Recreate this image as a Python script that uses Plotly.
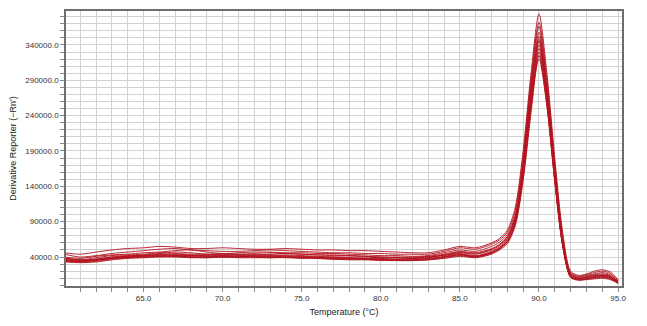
import plotly.graph_objects as go

# Temperature points (°C)
temps = [60, 61, 62, 63, 64, 65, 66, 67, 68, 69, 70, 71, 72, 73, 74, 75, 76, 77, 78, 79,
         80, 81, 82, 83, 84, 85, 86, 87, 87.5, 88, 88.5, 89, 89.5, 90, 90.5, 91, 91.5,
         92, 92.5, 93, 93.5, 94, 94.5, 95]

# Derivative reporter values, in thousands, one list per well
well_01 = [46, 44, 47, 50, 52, 53, 55, 54, 52, 52, 53, 52, 51, 51, 52, 51, 50, 50, 49, 49,
           48, 47, 46, 46, 50, 55, 53, 60, 66, 78, 110, 190, 300, 384, 300, 180, 75,
           20, 14, 16, 20, 22, 19, 8]
well_02 = [44, 40, 42, 45, 47, 49, 51, 52, 50, 49, 48, 48, 49, 50, 49, 48, 47, 46, 46, 45,
           45, 44, 44, 44, 48, 53, 51, 58, 64, 75, 105, 182, 292, 372, 292, 172, 70,
           18, 13, 15, 18, 20, 17, 7]
well_03 = [40, 38, 41, 43, 44, 46, 47, 49, 50, 47, 45, 46, 47, 47, 46, 46, 45, 45, 44, 43,
           42, 42, 41, 42, 46, 50, 48, 55, 61, 72, 100, 176, 286, 366, 285, 168, 66,
           17, 12, 14, 16, 18, 15, 6]
well_04 = [38, 36, 39, 42, 43, 44, 46, 45, 44, 44, 45, 44, 43, 44, 45, 44, 43, 43, 42, 41,
           40, 40, 40, 41, 44, 48, 46, 52, 58, 69, 97, 170, 280, 358, 280, 163, 63,
           16, 11, 13, 15, 16, 14, 5]
well_05 = [36, 34, 37, 40, 42, 42, 43, 43, 42, 43, 44, 43, 42, 42, 43, 42, 41, 40, 40, 40,
           39, 39, 38, 39, 43, 46, 44, 50, 56, 67, 95, 168, 275, 352, 275, 160, 61,
           15, 10, 12, 14, 15, 13, 5]
well_06 = [37, 35, 36, 39, 41, 42, 44, 44, 43, 42, 42, 42, 43, 43, 42, 41, 40, 40, 39, 38,
           38, 37, 38, 40, 42, 45, 42, 48, 54, 65, 92, 163, 268, 345, 270, 156, 59,
           14, 9, 11, 13, 14, 12, 4]
well_07 = [35, 33, 35, 38, 40, 41, 42, 41, 41, 41, 42, 41, 41, 41, 41, 40, 40, 39, 38, 38,
           37, 37, 37, 38, 41, 44, 41, 47, 53, 63, 90, 160, 262, 340, 266, 153, 58,
           13, 9, 10, 12, 13, 11, 4]
well_08 = [34, 33, 34, 37, 39, 40, 41, 41, 40, 40, 41, 40, 40, 40, 40, 39, 39, 38, 37, 37,
           36, 36, 36, 37, 40, 43, 40, 46, 52, 62, 88, 156, 256, 335, 262, 150, 57,
           12, 8, 9, 11, 12, 10, 3]
well_09 = [38, 35, 36, 38, 39, 41, 43, 42, 40, 39, 40, 41, 40, 39, 40, 40, 38, 37, 37, 37,
           36, 35, 35, 36, 39, 42, 40, 45, 51, 61, 86, 152, 250, 330, 258, 148, 56,
           12, 8, 9, 10, 11, 9, 3]
well_10 = [33, 32, 33, 36, 38, 39, 40, 40, 39, 39, 40, 39, 39, 39, 39, 38, 38, 37, 36, 36,
           35, 35, 35, 36, 38, 41, 39, 44, 50, 59, 84, 148, 244, 325, 254, 146, 55,
           11, 7, 8, 9, 10, 8, 3]
well_11 = [39, 36, 37, 40, 41, 43, 45, 47, 46, 44, 43, 44, 45, 46, 45, 44, 43, 42, 42, 41,
           40, 39, 39, 40, 43, 47, 45, 51, 57, 68, 96, 166, 272, 348, 272, 158, 60,
           14, 10, 11, 13, 14, 12, 4]
well_12 = [35, 34, 36, 38, 40, 40, 41, 42, 42, 41, 40, 40, 41, 41, 40, 39, 39, 38, 38, 37,
           37, 36, 36, 37, 40, 43, 41, 46, 52, 62, 89, 158, 258, 320, 255, 148, 57,
           12, 8, 9, 11, 12, 10, 3]

wells = [well_01, well_02, well_03, well_04, well_05, well_06,
         well_07, well_08, well_09, well_10, well_11, well_12]

x_tick_vals = [65, 70, 75, 80, 85, 90, 95]
x_tick_text = ["65.0", "70.0", "75.0", "80.0", "85.0", "90.0", "95.0"]
y_tick_vals = [40000, 90000, 140000, 190000, 240000, 290000, 340000]
y_tick_text = ["40000.0", "90000.0", "140000.0", "190000.0", "240000.0", "290000.0", "340000.0"]

fig = go.Figure()
for w in wells:
    fig.add_trace(go.Scatter(
        x=temps, y=[v * 1000 for v in w], mode="lines",
        line=dict(color="#b3141f", width=1.0, shape="spline", smoothing=0.8),
        opacity=0.9, showlegend=False, hoverinfo="skip"))

grid_c = "#d2d2d2"
# page body has an 8px default margin, so the figure is sized/offset to compensate
fig.update_layout(
    width=639, height=318,
    margin=dict(l=58, r=25, t=3, b=40),
    paper_bgcolor="white", plot_bgcolor="white",
    font=dict(family="Liberation Sans, Arial, sans-serif", size=8, color="#333333"),
    xaxis=dict(
        range=[60.1, 95.25], tickmode="array", tickvals=x_tick_vals, ticktext=x_tick_text,
        showgrid=True, gridcolor=grid_c, gridwidth=1,
        ticks="outside", ticklen=4, tickcolor="#888888",
        minor=dict(dtick=1, tick0=60, showgrid=True, gridcolor=grid_c, gridwidth=1,
                   ticks="outside", ticklen=4, tickcolor="#888888"),
        showline=True, linecolor="#6e6e6e", linewidth=1.5, mirror=True,
        zeroline=False, automargin=False,
        tickfont=dict(size=8, color="#333333"),
        title=dict(text="Temperature (°C)", font=dict(size=9, color="#222222"), standoff=6),
    ),
    yaxis=dict(
        range=[-1000, 388000], tickmode="array", tickvals=y_tick_vals, ticktext=y_tick_text,
        showgrid=True, gridcolor=grid_c, gridwidth=1,
        ticks="outside", ticklen=4, tickcolor="#888888",
        minor=dict(dtick=10000, tick0=0, showgrid=True, gridcolor=grid_c, gridwidth=1,
                   ticks="outside", ticklen=4, tickcolor="#888888"),
        showline=True, linecolor="#6e6e6e", linewidth=1.5, mirror=True,
        zeroline=False, automargin=False,
        tickfont=dict(size=8, color="#333333"),
        title=dict(text="Derivative Reporter (\u2212Rn')", font=dict(size=9, color="#222222"), standoff=10),
    ),
)

fig.write_html("out.html")
